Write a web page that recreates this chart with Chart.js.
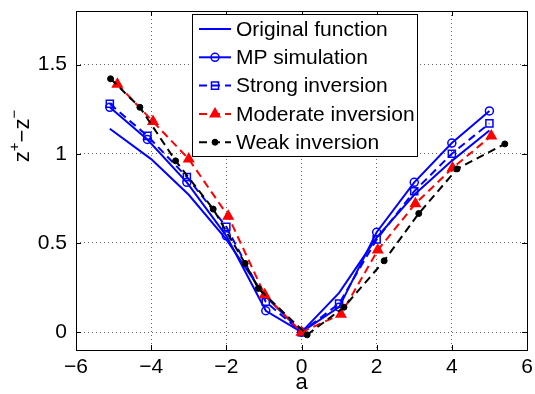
<!DOCTYPE html>
<html><head><meta charset="utf-8">
<script src="https://cdn.jsdelivr.net/npm/chart.js@4.4.1/dist/chart.umd.min.js"></script>
<style>html,body{margin:0;padding:0;background:#fff}</style>
</head><body>
<canvas id="c" width="535" height="394"></canvas>
<script>
// ---- data ----
const xTickValues = [-6, -4, -2, 0, 2, 4, 6];
const xTickLabels = ['\u22126', '\u22124', '\u22122', '0', '2', '4', '6'];
const yTickValues = [0, 0.5, 1, 1.5];
const yTickLabels = ['0', '0.5', '1', '1.5'];

const seriesNames = ['Original function', 'MP simulation', 'Strong inversion', 'Moderate inversion', 'Weak inversion'];

const xOriginal = [-5.1, -4, -3, -2, -1, 0, 1, 2, 3, 4, 5];
const yOriginal = [1.14, 0.97, 0.77, 0.52, 0.21, 0, 0.22, 0.53, 0.77, 0.96, 1.13];

const xMP = [-5.1, -4.1, -3.05, -2, -0.95, 0, 1, 2, 3, 4, 5];
const yMP = [1.26, 1.08, 0.84, 0.54, 0.12, 0, 0.14, 0.56, 0.84, 1.06, 1.24];

const xStrong = [-5.1, -4.1, -3.05, -2, -0.95, 0, 1, 2, 3, 4, 5];
const yStrong = [1.28, 1.10, 0.87, 0.59, 0.17, 0, 0.16, 0.52, 0.79, 1.00, 1.17];

const xModerate = [-4.9, -3.95, -3, -1.95, -0.98, 0, 1.05, 2.03, 3.03, 4.02, 5.05];
const yModerate = [1.39, 1.18, 0.97, 0.65, 0.21, 0, 0.10, 0.46, 0.72, 0.92, 1.10];

const xWeak = [-5.08, -4.3, -3.35, -2.35, -1.5, -1.15, 0.15, 1.13, 2.2, 3.12, 4.14, 5.41];
const yWeak = [1.42, 1.26, 0.96, 0.69, 0.385, 0.245, -0.015, 0.14, 0.40, 0.665, 0.915, 1.055];

// ---- helpers ----
function pts(xs, ys) { return xs.map((x, i) => ({ x: x, y: ys[i] })); }
const FONT = '"Liberation Sans", Arial, Helvetica, sans-serif';
const BLUE = '#0000ff', RED = '#ff0000', BLACK = '#000000';
const DASH = [8, 5];

const matlabPlugin = {
  id: 'matlabDecor',
  afterDraw(chart) {
    const c = chart.ctx;
    const a = chart.chartArea;
    const xs = chart.scales.x, ys = chart.scales.y;
    c.save();
    c.setLineDash([]);
    c.strokeStyle = '#000';
    c.lineWidth = 1;
    // inward tick marks
    const TL = 5;
    c.beginPath();
    xTickValues.forEach(v => {
      const px = Math.round(xs.getPixelForValue(v)) + 0.5;
      c.moveTo(px, a.bottom); c.lineTo(px, a.bottom - TL);
      c.moveTo(px, a.top); c.lineTo(px, a.top + TL);
    });
    yTickValues.forEach(v => {
      const py = Math.round(ys.getPixelForValue(v)) + 0.5;
      c.moveTo(a.left, py); c.lineTo(a.left + TL, py);
      c.moveTo(a.right, py); c.lineTo(a.right - TL, py);
    });
    c.stroke();
    // frame
    c.strokeRect(Math.round(a.left) + 0.5, Math.round(a.top) + 0.5, Math.round(a.right - a.left), Math.round(a.bottom - a.top));

    // legend
    const L = 192.5, T = 14.5, R = 417.5, B = 156.5;
    c.fillStyle = '#fff';
    c.fillRect(L, T, R - L, B - T);
    c.strokeStyle = '#000';
    c.strokeRect(L, T, R - L, B - T);
    const rowY0 = 29, rowStep = 28.3;
    chart.data.datasets.forEach((ds, i) => {
      const y = rowY0 + i * rowStep;
      c.save();
      c.strokeStyle = ds.borderColor;
      c.lineWidth = ds.borderWidth;
      c.setLineDash(ds.borderDash || []);
      c.beginPath(); c.moveTo(199, y); c.lineTo(231, y); c.stroke();
      c.setLineDash([]);
      if (ds.pointRadius > 0) {
        c.fillStyle = ds.pointBackgroundColor;
        c.strokeStyle = ds.pointBorderColor;
        c.lineWidth = ds.pointBorderWidth;
        Chart.helpers.drawPoint(c, { pointStyle: ds.pointStyle, radius: ds.pointRadius, borderWidth: ds.pointBorderWidth, rotation: 0 }, 215, y);
      }
      c.restore();
      c.fillStyle = '#000';
      c.font = '21px ' + FONT;
      c.textBaseline = 'middle';
      c.textAlign = 'left';
      c.fillText(ds.label, 236, y + 1);
    });

    // y axis label  z^+ − z^-
    const segs = [
      { t: 'z', s: 22, dy: 0 }, { t: '+', s: 15, dy: -10 },
      { t: '\u2212', s: 22, dy: 0 }, { t: 'z', s: 22, dy: 0 }, { t: '\u2212', s: 15, dy: -10 }
    ];
    let tw = 0;
    segs.forEach(sg => { c.font = sg.s + 'px ' + FONT; sg.w = c.measureText(sg.t).width; tw += sg.w; });
    c.save();
    c.translate(29, 136);
    c.rotate(-Math.PI / 2);
    c.fillStyle = '#000';
    c.textBaseline = 'alphabetic';
    c.textAlign = 'left';
    let x0 = -tw / 2;
    segs.forEach(sg => { c.font = sg.s + 'px ' + FONT; c.fillText(sg.t, x0, sg.dy); x0 += sg.w; });
    c.restore();

    // x axis label
    c.font = '22px ' + FONT;
    c.textAlign = 'center';
    c.textBaseline = 'middle';
    c.fillStyle = '#000';
    c.fillText('a', (a.left + a.right) / 2, 383);
    c.restore();
  }
};

const gridColor = (ctx) => {
  const v = ctx.tick ? ctx.tick.value : null;
  const s = ctx.scale;
  if (v === s.min || v === s.max) return 'rgba(0,0,0,0)';
  return 'rgba(0,0,0,0.6)';
};

new Chart(document.getElementById('c').getContext('2d'), {
  type: 'scatter',
  data: {
    datasets: [
      { label: seriesNames[0], data: pts(xOriginal, yOriginal), showLine: true, borderColor: BLUE, borderWidth: 2,
        pointRadius: 0, pointBorderWidth: 0, pointBackgroundColor: BLUE, pointBorderColor: BLUE, order: 4 },
      { label: seriesNames[1], data: pts(xMP, yMP), showLine: true, borderColor: BLUE, borderWidth: 2,
        pointStyle: 'circle', pointRadius: 4, pointBorderWidth: 1.5, pointBackgroundColor: 'rgba(0,0,0,0)', pointBorderColor: BLUE, order: 3 },
      { label: seriesNames[2], data: pts(xStrong, yStrong), showLine: true, borderColor: BLUE, borderWidth: 2, borderDash: DASH,
        pointStyle: 'rect', pointRadius: 5, pointBorderWidth: 1.5, pointBackgroundColor: 'rgba(0,0,0,0)', pointBorderColor: BLUE, order: 2 },
      { label: seriesNames[3], data: pts(xModerate, yModerate), showLine: true, borderColor: RED, borderWidth: 2, borderDash: DASH,
        pointStyle: 'triangle', pointRadius: 5.5, pointBorderWidth: 1.5, pointBackgroundColor: RED, pointBorderColor: RED, order: 1 },
      { label: seriesNames[4], data: pts(xWeak, yWeak), showLine: true, borderColor: BLACK, borderWidth: 2, borderDash: DASH,
        pointStyle: 'circle', pointRadius: 3, pointBorderWidth: 1, pointBackgroundColor: BLACK, pointBorderColor: BLACK, order: 0 }
    ]
  },
  options: {
    responsive: false,
    animation: false,
    devicePixelRatio: 1,
    layout: { padding: { top: 11, right: 8, left: 0, bottom: 0 } },
    plugins: { legend: { display: false }, tooltip: { enabled: false } },
    elements: { line: { tension: 0, fill: false } },
    scales: {
      x: {
        type: 'linear', min: -6, max: 6,
        afterBuildTicks: s => { s.ticks = xTickValues.map(v => ({ value: v })); },
        afterFit: s => { s.height = 44; s.paddingLeft = 0; s.paddingRight = 0; },
        grid: { drawTicks: false, color: gridColor, lineWidth: 1 },
        border: { display: false, dash: [1, 3] },
        ticks: {
          font: { family: FONT, size: 21 }, color: '#000', padding: 5, maxRotation: 0,
          callback: (v) => { const i = xTickValues.indexOf(v); return i >= 0 ? xTickLabels[i] : ''; }
        }
      },
      y: {
        type: 'linear', min: -0.1, max: 1.8,
        afterBuildTicks: s => { s.ticks = yTickValues.map(v => ({ value: v })); },
        afterFit: s => { s.width = 76; s.paddingTop = 0; s.paddingBottom = 0; },
        grid: { drawTicks: false, color: gridColor, lineWidth: 1 },
        border: { display: false, dash: [1, 3] },
        ticks: {
          font: { family: FONT, size: 21 }, color: '#000', padding: 9,
          callback: (v) => { const i = yTickValues.indexOf(v); return i >= 0 ? yTickLabels[i] : ''; }
        }
      }
    }
  },
  plugins: [matlabPlugin]
});
</script>
</body></html>
